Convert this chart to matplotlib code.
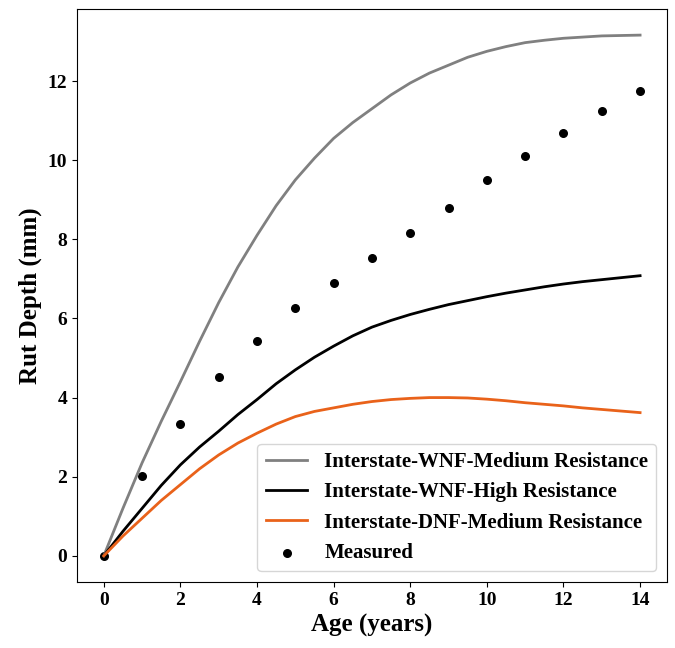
import matplotlib
matplotlib.use("Agg")
import matplotlib.pyplot as plt
import numpy as np

# values
age_curve = np.arange(0, 14.5, 0.5)
wnf_medium = [0, 1.2, 2.35, 3.4, 4.4, 5.42, 6.4, 7.3, 8.1, 8.85, 9.5, 10.05, 10.55, 10.95,
              11.3, 11.65, 11.95, 12.2, 12.4, 12.6, 12.75, 12.87, 12.97, 13.03, 13.08,
              13.11, 13.14, 13.15, 13.16]
wnf_high = [0, 0.62, 1.2, 1.78, 2.3, 2.75, 3.15, 3.57, 3.95, 4.35, 4.7, 5.02, 5.3, 5.56,
            5.78, 5.95, 6.1, 6.23, 6.35, 6.45, 6.55, 6.64, 6.72, 6.8, 6.87, 6.93, 6.98,
            7.03, 7.08]
dnf_medium = [0, 0.5, 0.95, 1.4, 1.8, 2.2, 2.55, 2.85, 3.1, 3.33, 3.52, 3.65, 3.74, 3.83,
              3.9, 3.95, 3.98, 4.0, 4.0, 3.99, 3.96, 3.92, 3.87, 3.83, 3.79, 3.74, 3.7,
              3.66, 3.62]

age_measured = np.arange(0, 15)
measured = [0, 2.01, 3.32, 4.53, 5.43, 6.26, 6.89, 7.52, 8.16, 8.78, 9.51, 10.11, 10.68, 11.23, 11.76]

labels = [
    "Interstate-WNF-Medium Resistance",
    "Interstate-WNF-High Resistance",
    "Interstate-DNF-Medium Resistance",
    "Measured",
]

plt.rcParams["font.family"] = ["Liberation Serif", "DejaVu Serif"]
plt.rcParams["font.weight"] = "bold"

fig = plt.figure(figsize=(6.75, 6.48), dpi=100)
ax = fig.add_axes([0.114, 0.102, 0.874, 0.884])

pts = ax.scatter(age_measured, measured, s=30, color="black", zorder=1, label=labels[3])
l1, = ax.plot(age_curve, wnf_medium, color="#808080", lw=2, label=labels[0])
l2, = ax.plot(age_curve, wnf_high, color="black", lw=2, label=labels[1])
l3, = ax.plot(age_curve, dnf_medium, color="#E9621A", lw=2, label=labels[2])

ax.set_xticks(np.arange(0, 15, 2))
ax.set_yticks(np.arange(0, 13, 2))
ax.tick_params(labelsize=14)
for t in ax.get_xticklabels() + ax.get_yticklabels():
    t.set_fontweight("bold")

ax.set_xlabel("Age (years)", fontsize=18, fontweight="bold")
ax.set_ylabel("Rut Depth (mm)", fontsize=18, fontweight="bold")

ax.legend([l1, l2, l3, pts], labels, loc="lower right",
          prop={"weight": "bold", "size": 15})

fig.savefig("out.png", dpi=100)
